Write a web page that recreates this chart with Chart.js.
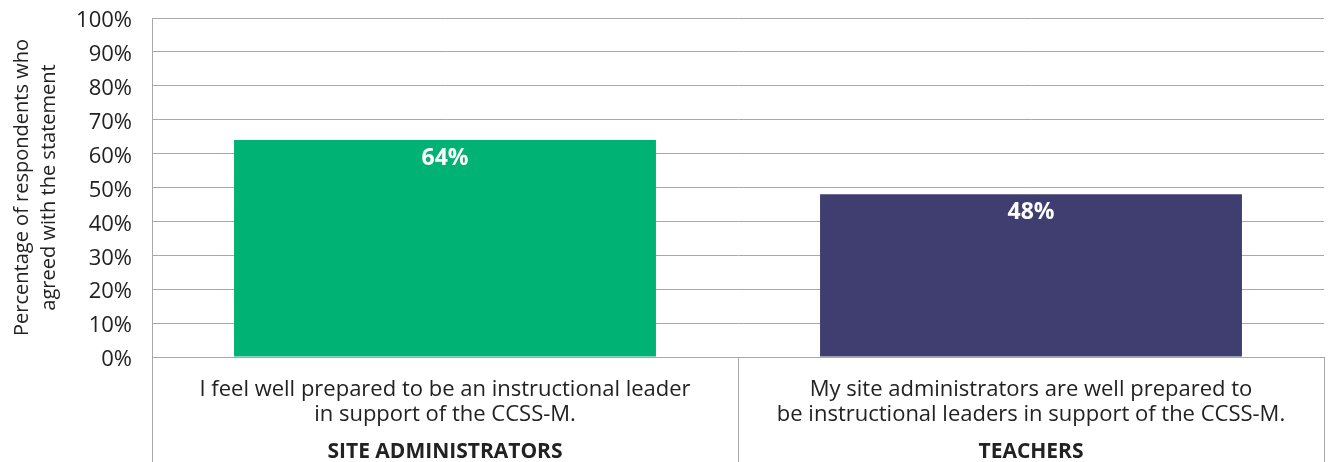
<!DOCTYPE html>
<html>
<head>
<meta charset="utf-8">
<script src="https://cdn.jsdelivr.net/npm/chart.js@4"></script>
<style>
  html, body { margin: 0; padding: 0; background: #fff; }
  #wrap { width: 1328px; height: 462px; }
</style>
</head>
<body>
<div id="wrap"><canvas id="myChart"></canvas></div>
<script>
let statements = [
  ["I feel well prepared to be an instructional leader", "in support of the CCSS-M."],
  ["My site administrators are well prepared to", "be instructional leaders in support of the CCSS-M."]
];
let groups = ["SITE ADMINISTRATORS", "TEACHERS"];
let agreed = [64, 48];
let barColors = ["#00b274", "#403e70"];
let yTicks = [0, 10, 20, 30, 40, 50, 60, 70, 80, 90, 100];

let fontName = "'Open Sans', sans-serif";
let gridColor = "#a8a8a8";

// white value labels just under the top of each bar
let valueLabels = {
  id: "valueLabels",
  afterDatasetsDraw(chart) {
    let ctx = chart.ctx;
    let meta = chart.getDatasetMeta(0);
    ctx.save();
    ctx.fillStyle = "#fff";
    ctx.font = "bold 23px " + fontName;
    ctx.textAlign = "center";
    ctx.textBaseline = "middle";
    meta.data.forEach((bar, i) => {
      ctx.fillText(agreed[i] + "%", bar.x, bar.y + 18);
    });
    ctx.restore();
  }
};

// vertical separators under the axis, at category edges
let separators = {
  id: "separators",
  afterDraw(chart) {
    let ctx = chart.ctx;
    let x = chart.scales.x;
    let area = chart.chartArea;
    ctx.save();
    ctx.strokeStyle = gridColor;
    ctx.lineWidth = 1;
    let half = (x.getPixelForValue(1) - x.getPixelForValue(0)) / 2;
    let edges = [x.getPixelForValue(0) - half, x.getPixelForValue(0) + half, x.getPixelForValue(1) + half];
    edges.forEach((px) => {
      px = Math.round(px) + 0.5;
      ctx.beginPath();
      ctx.moveTo(px, area.bottom);
      ctx.lineTo(px, chart.height);
      ctx.stroke();
    });
    ctx.restore();
  }
};

let myChart = document.getElementById("myChart").getContext("2d");
let barChart = new Chart(myChart, {
  type: "bar",
  data: {
    labels: statements,
    datasets: [
      {
        label: "Agreed",
        data: agreed,
        backgroundColor: barColors,
        barPercentage: 0.72,
        categoryPercentage: 1,
      },
    ],
  },
  options: {
    responsive: true,
    maintainAspectRatio: false,
    animation: false,
    layout: { padding: { top: 18, right: 4, left: 0, bottom: 0 } },
    plugins: {
      legend: { display: false },
      tooltip: { enabled: false },
    },
    scales: {
      y: {
        min: 0,
        max: 100,
        afterBuildTicks(axis) {
          axis.ticks = yTicks.map((v) => ({ value: v }));
        },
        afterFit(axis) {
          axis.width = 152;
          axis.paddingTop = 0;
          axis.paddingBottom = 0;
        },
        ticks: {
          color: "#222",
          font: { family: fontName, size: 22 },
          padding: 20,
          labelOffset: 3,
          callback: (v) => v + "%",
        },
        grid: { color: gridColor, drawTicks: false },
        border: { color: gridColor },
        title: {
          display: true,
          text: ["Percentage of respondents who", "agreed with the statement"],
          color: "#222",
          font: { family: fontName, size: 20, lineHeight: 1.35 },
          padding: { top: 9, bottom: 0 },
        },
      },
      x: {
        position: "bottom",
        afterFit(axis) {
          axis.height = 70;
        },
        ticks: {
          color: "#222",
          font: { family: fontName, size: 22, lineHeight: 1.1 },
          padding: 13,
          maxRotation: 0,
        },
        grid: { display: false },
        border: { color: gridColor },
      },
      x2: {
        type: "category",
        position: "bottom",
        labels: groups,
        afterFit(axis) {
          axis.height = 35;
        },
        ticks: {
          color: "#222",
          font: { family: fontName, size: 21, weight: "bold" },
          padding: 4,
          maxRotation: 0,
        },
        grid: { display: false },
        border: { display: false },
      },
    },
  },
  plugins: [valueLabels, separators],
});
</script>
</body>
</html>
